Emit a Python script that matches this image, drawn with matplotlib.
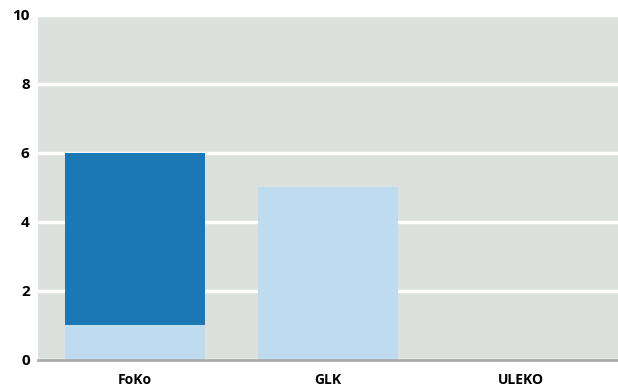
import matplotlib
matplotlib.use("Agg")
import matplotlib.pyplot as plt

categories = ["FoKo", "GLK", "ULEKO"]
light_values = [1, 5, 0]
dark_values = [5, 0, 0]
yticks = [0, 2, 4, 6, 8, 10]

plt.rcParams['font.family'] = ['Open Sans', 'DejaVu Sans']

fig = plt.figure(figsize=(6.18, 3.87), dpi=100)
ax = fig.add_axes([0.0615, 0.071, 0.9385, 0.8915])
ax.set_facecolor('#dde1de')
x = range(len(categories))
ax.bar(x, light_values, width=0.725, color='#bfdbef', zorder=3)
ax.bar(x, dark_values, width=0.725, bottom=light_values, color='#1c78b5', zorder=3)
ax.set_xlim(-0.5, 2.5)
ax.set_ylim(0, 10)
ax.set_yticks(yticks)
ax.set_yticklabels([str(v) for v in yticks], fontsize=11, fontweight='bold')
ax.set_xticks(list(x))
ax.set_xticklabels(categories, fontsize=10, fontweight='bold')
ax.tick_params(axis='both', length=0)
ax.tick_params(axis='y', pad=6)
ax.tick_params(axis='x', pad=10)
ax.yaxis.grid(True, color='white', linewidth=2.5, zorder=1)
ax.set_axisbelow(True)
for s in ['top', 'right', 'left']:
    ax.spines[s].set_visible(False)
ax.spines['bottom'].set_color('#aaaaaa')
ax.spines['bottom'].set_linewidth(2)
ax.spines['bottom'].set_zorder(4)
fig.savefig('out.png', dpi=100)
